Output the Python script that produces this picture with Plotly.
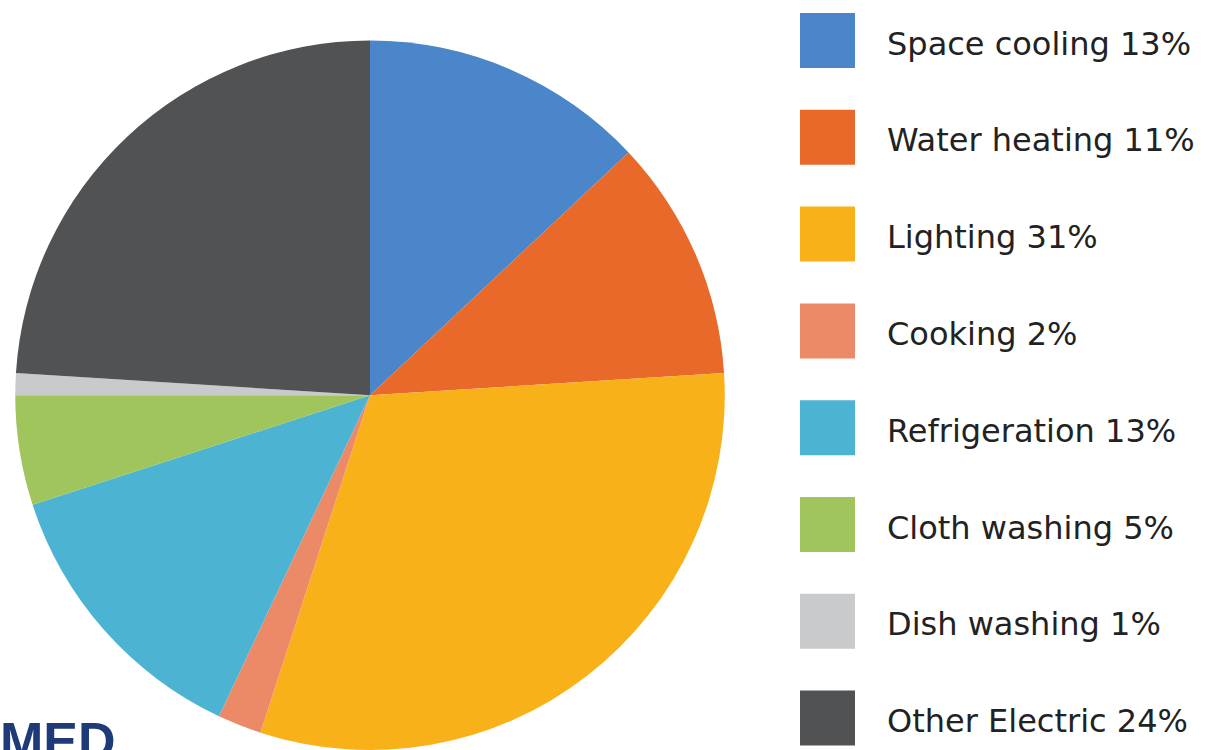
import plotly.graph_objects as go

# Household electricity end-use shares
labels = ["Space cooling", "Water heating", "Lighting", "Cooking",
          "Refrigeration", "Cloth washing", "Dish washing", "Other Electric"]
shares = [13, 11, 31, 2, 13, 5, 1, 24]
colors = ["#4A86C9", "#E8692A", "#F9B11A", "#EC8A68",
          "#4CB3D3", "#9FC55C", "#C9CACC", "#515254"]

W, H = 1214, 750

fig = go.Figure(go.Pie(
    labels=labels,
    values=shares,
    sort=False,
    direction="clockwise",
    rotation=0,
    textinfo="none",
    hoverinfo="label+percent",
    marker=dict(colors=colors, line=dict(width=0)),
    domain=dict(x=[15 / W, 725 / W], y=[0, 0.946]),
    showlegend=False,
))

# Custom legend: colour squares with labels on the right
shapes = []
annotations = []
row_top = 13
row_step = 96.8
sq = 55
for i, (lab, val, col) in enumerate(zip(labels, shares, colors)):
    y0 = row_top + i * row_step
    shapes.append(dict(
        type="rect", xref="paper", yref="paper",
        x0=800 / W, x1=(800 + sq) / W,
        y0=1 - (y0 + sq) / H, y1=1 - y0 / H,
        fillcolor=col, line=dict(width=0),
    ))
    annotations.append(dict(
        x=885 / W, y=1 - (y0 + sq / 2 + 3) / H,
        xref="paper", yref="paper", xanchor="left", yanchor="middle",
        text=f"{lab} {val}%", showarrow=False,
        font=dict(family="DejaVu Sans", size=32, color="#222222"),
    ))

# Partial logo text at the bottom-left corner
annotations.append(dict(
    x=-2 / W, y=1 - 710 / H, xref="paper", yref="paper",
    xanchor="left", yanchor="top", text="<b>MED</b>", showarrow=False,
    font=dict(family="Liberation Sans", size=52, color="#1E3A78"),
))

fig.update_layout(
    width=W, height=H,
    margin=dict(l=0, r=0, t=0, b=0),
    paper_bgcolor="white", plot_bgcolor="white",
    shapes=shapes, annotations=annotations,
)

fig.write_html("out.html")
